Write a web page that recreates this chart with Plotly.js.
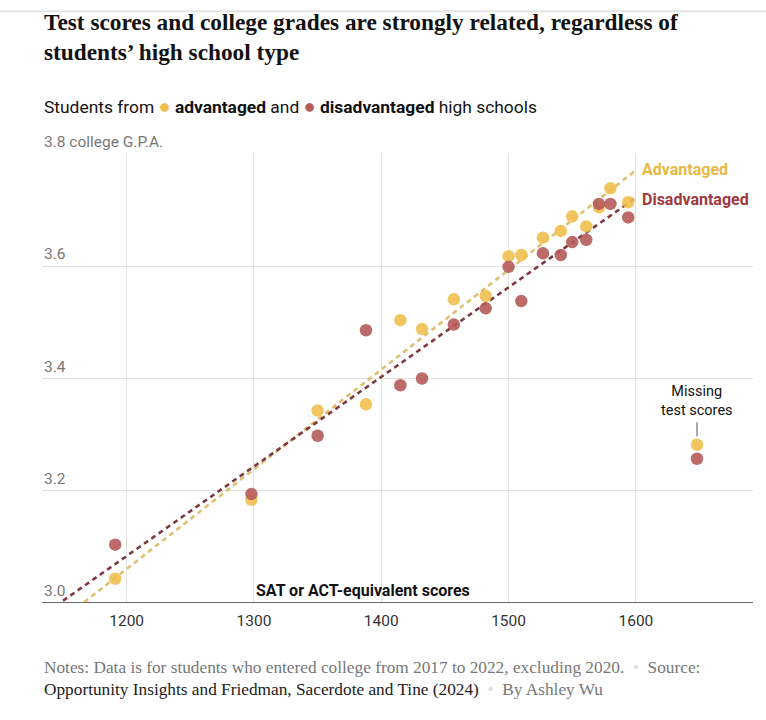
<!DOCTYPE html>
<html>
<head>
<meta charset="utf-8">
<script src="https://cdn.plot.ly/plotly-3.0.1.min.js"></script>
<style>html,body{margin:0;padding:0;background:#fff;}#chart{width:766px;height:720px;}</style>
</head>
<body>
<div id="chart"></div>
<script>
// SAT/ACT-equivalent score bins
var scores = [1191, 1298, 1350, 1388, 1415, 1432, 1457, 1482, 1500, 1510, 1527, 1541, 1550, 1561, 1571, 1580, 1594];
var advantagedGPA = [3.043, 3.184, 3.343, 3.354, 3.504, 3.488, 3.541, 3.547, 3.618, 3.620, 3.651, 3.663, 3.689, 3.671, 3.705, 3.739, 3.714];
var disadvantagedGPA = [3.104, 3.194, 3.298, 3.486, 3.388, 3.400, 3.496, 3.525, 3.599, 3.538, 3.623, 3.620, 3.643, 3.647, 3.711, 3.711, 3.687];
// Missing test scores group
var missingX = [1648];
var missingAdvGPA = [3.282];
var missingDisGPA = [3.257];
// Trend line end points
var trendX = [1150, 1600];
var advTrend = [2.972, 3.771];
var disTrend = [3.004, 3.722];
// Axis ticks
var yTickVals = [3.0, 3.2, 3.4, 3.6, 3.8];
var yTickText = ['3.0', '3.2', '3.4', '3.6', '3.8 college G.P.A.'];
var xTickVals = [1200, 1300, 1400, 1500, 1600];
var xTickText = ['1200', '1300', '1400', '1500', '1600'];

var YEL = '#f0c04f', RED = '#b65a5a';
var sans = 'Roboto, "Liberation Sans", Arial, sans-serif';
var serif = '"Liberation Serif", "DejaVu Serif", serif';

var traces = [
  {x: trendX, y: advTrend, mode: 'lines', line: {color: '#dfc072', width: 2.6, dash: '5px,4px'}, hoverinfo: 'skip'},
  {x: trendX, y: disTrend, mode: 'lines', line: {color: '#7e3a42', width: 2.6, dash: '5px,4px'}, hoverinfo: 'skip'},
  {x: scores.concat(missingX), y: advantagedGPA.concat(missingAdvGPA), mode: 'markers', cliponaxis: false,
   marker: {color: YEL, size: 12.5, opacity: 0.9, line: {width: 0}}},
  {x: scores.concat(missingX), y: disadvantagedGPA.concat(missingDisGPA), mode: 'markers', cliponaxis: false,
   marker: {color: RED, size: 12.5, opacity: 0.9, line: {width: 0}}}
];

var annotations = [
  {xref: 'paper', yref: 'paper', x: 0, y: 1.327, xanchor: 'left', yanchor: 'top', showarrow: false, align: 'left',
   text: '<b>Test scores and college grades are strongly related, regardless of<br>students’ high school type</b>',
   font: {family: serif, size: 23.3, color: '#121212'}},
  {xref: 'paper', yref: 'paper', x: 0, y: 1.107, xanchor: 'left', yanchor: 'middle', showarrow: false, align: 'left',
   text: 'Students from <span style="color:' + YEL + ';font-size:20px">●</span> <b>advantaged</b> and <span style="color:' + RED + ';font-size:20px">●</span> <b>disadvantaged</b> high schools',
   font: {family: sans, size: 17.4, color: '#121212'}},
  {xref: 'x', yref: 'y', x: 1300, y: 3.0, xanchor: 'left', yanchor: 'bottom', yshift: 1, showarrow: false,
   text: '<b>SAT or ACT-equivalent scores</b>', font: {family: sans, size: 16, color: '#121212'}},
  {xref: 'x', yref: 'y', x: 1600, y: advTrend[1], xanchor: 'left', yanchor: 'middle', xshift: 4, yshift: 1, showarrow: false,
   text: '<b>Advantaged</b>', font: {family: sans, size: 16, color: '#e8b845'}},
  {xref: 'x', yref: 'y', x: 1600, y: disTrend[1], xanchor: 'left', yanchor: 'middle', xshift: 4, yshift: -2, showarrow: false,
   text: '<b>Disadvantaged</b>', font: {family: sans, size: 16, color: '#a03a3c'}},
  {xref: 'x', yref: 'y', x: 1648, y: 3.36, xanchor: 'center', yanchor: 'middle', showarrow: false,
   text: 'Missing<br>test scores', font: {family: sans, size: 14.5, color: '#121212'}},
  {xref: 'paper', yref: 'paper', x: 0, y: -0.117, xanchor: 'left', yanchor: 'top', showarrow: false, align: 'left',
   text: '<span style="color:#777">Notes: Data is for students who entered college from 2017 to 2022, excluding 2020.</span>  <span style="color:#ddd">•</span>  <span style="color:#777">Source:</span><br><span style="color:#222">Opportunity Insights and Friedman, Sacerdote and Tine (2024)</span>  <span style="color:#ddd">•</span>  <span style="color:#777">By Ashley Wu</span>',
   font: {family: serif, size: 17.3, color: '#777'}}
];
// y tick labels sit above their gridlines, left-aligned at the plot edge
yTickVals.forEach(function (v, i) {
  annotations.push({xref: 'paper', yref: 'y', x: 0, y: v, xanchor: 'left', yanchor: 'bottom', yshift: 1, showarrow: false,
    text: yTickText[i], font: {family: sans, size: 15.5, color: '#777'}});
});

var layout = {
  width: 766, height: 720,
  margin: {l: 42, r: 13, t: 154, b: 117},
  paper_bgcolor: '#fff', plot_bgcolor: '#fff',
  showlegend: false,
  xaxis: {
    range: [1133.5, 1692], tickvals: xTickVals, ticktext: xTickText,
    showgrid: true, gridcolor: '#e2e2e2', gridwidth: 1, zeroline: false,
    showline: false, ticks: '', ticklabelstandoff: 6,
    tickfont: {family: sans, size: 15.5, color: '#333'}
  },
  yaxis: {
    range: [3.0, 3.8], tickvals: yTickVals, showticklabels: false,
    showgrid: true, gridcolor: '#e2e2e2', gridwidth: 1, zeroline: false, ticks: ''
  },
  shapes: [
    {type: 'line', xref: 'paper', yref: 'y', x0: 0, x1: 1, y0: 3.0, y1: 3.0, line: {color: '#333', width: 1.3}},
    {type: 'line', xref: 'paper', yref: 'paper', x0: -0.06, x1: 1.02, y0: 1.318, y1: 1.318, line: {color: '#e4e4e4', width: 2}},
    {type: 'line', xref: 'x', yref: 'y', x0: 1648, x1: 1648, y0: 3.297, y1: 3.322, line: {color: '#555', width: 1}}
  ],
  annotations: annotations
};

Plotly.newPlot('chart', traces, layout, {displayModeBar: false, staticPlot: true});
</script>
</body>
</html>
